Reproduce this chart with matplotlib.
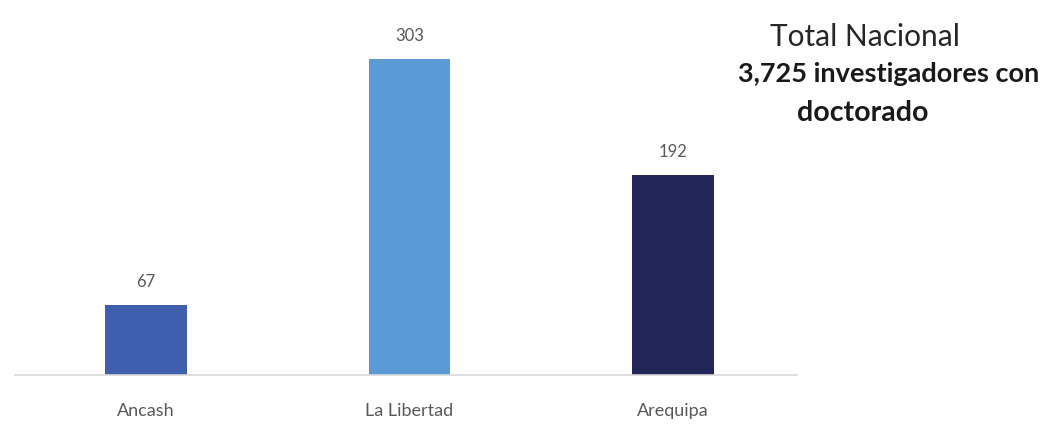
import matplotlib.pyplot as plt

regiones = ["Ancash", "La Libertad", "Arequipa"]
investigadores = [67, 303, 192]
colores = ["#3f5fae", "#5b9bd5", "#222659"]

plt.rcParams['font.family'] = ['Lato', 'DejaVu Sans']

fig = plt.figure(figsize=(10.49, 4.26), dpi=100)
ax = fig.add_axes([15 / 1049, 51 / 426, 782 / 1049, 375 / 426])

x = range(len(regiones))
bars = ax.bar(x, investigadores, width=0.31, color=colores)

for b, v in zip(bars, investigadores):
    ax.annotate(str(v), (b.get_x() + b.get_width() / 2, v), xytext=(0, 11),
                textcoords="offset points", ha="center", va="bottom",
                fontsize=12, color="#595959")

ax.set_xlim(-0.497, 2.47)
ax.set_ylim(0, 360)
ax.set_xticks(list(x))
ax.set_xticklabels(regiones, fontsize=13, color="#595959")
ax.tick_params(axis="x", length=0, pad=20)
ax.set_yticks([])
for s in ["top", "right", "left"]:
    ax.spines[s].set_visible(False)
ax.spines["bottom"].set_color("#d9d9d9")
ax.spines["bottom"].set_linewidth(1.2)

fig.text(865 / 1049, 1 - 37 / 426, "Total Nacional", ha="center", va="center",
         fontsize=21.5, color="#262626")
fig.text(889 / 1049, 1 - 74 / 426, "3,725 investigadores con", ha="center",
         va="center", fontsize=19.5, fontweight="bold", color="#1a1a1a")
fig.text(863 / 1049, 1 - 113 / 426, "doctorado", ha="center", va="center",
         fontsize=20.5, fontweight="bold", color="#1a1a1a")

fig.savefig("out.png", dpi=100)
